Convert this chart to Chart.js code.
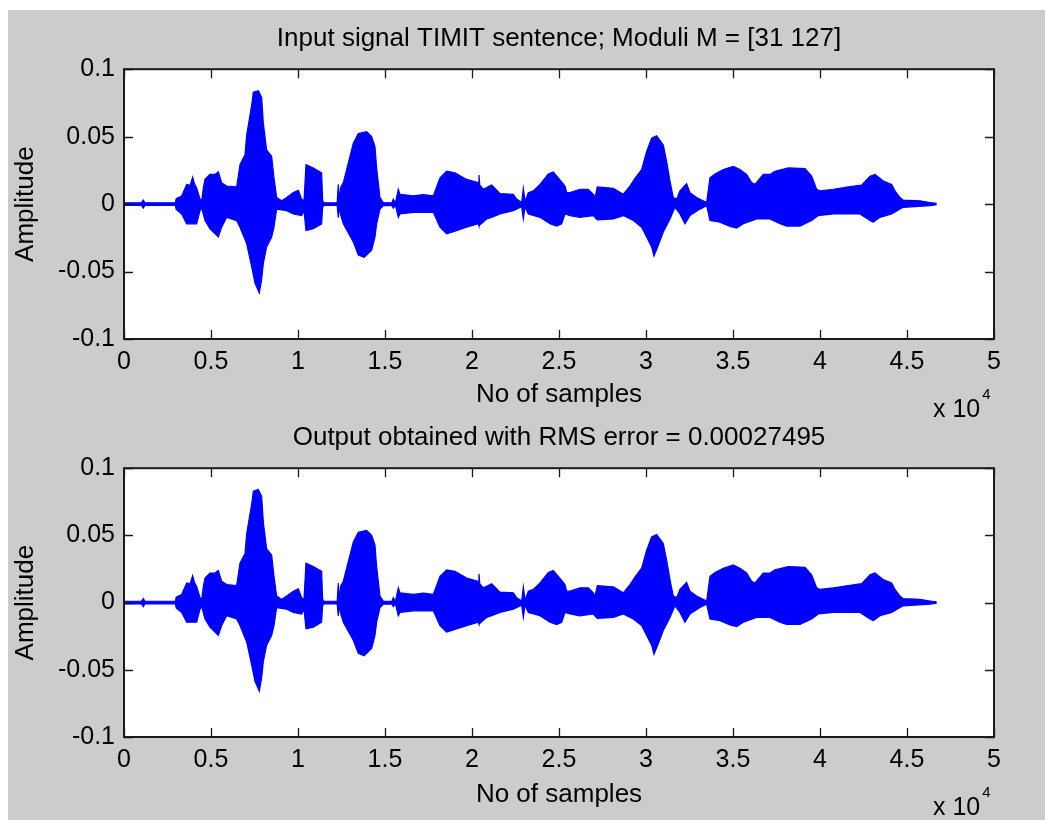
<!DOCTYPE html>
<html>
<head>
<meta charset="utf-8">
<title>TIMIT sentence - RNS reconstruction</title>
<script src="https://cdn.jsdelivr.net/npm/chart.js@4.4.1/dist/chart.umd.min.js"></script>
<style>
  html, body { margin: 0; padding: 0; background: #fff; }
  #figure { position: absolute; left: 8px; top: 10px; width: 1037px; height: 810px; background: #cccccc; }
  #figure canvas { position: absolute; left: 0; }
  #inputPlot { top: 0; }
  #outputPlot { top: 410px; }
</style>
</head>
<body>
<div id="figure">
  <canvas id="inputPlot" width="1037" height="410"></canvas>
  <canvas id="outputPlot" width="1037" height="400"></canvas>
</div>
<script>
// axis ticks (samples are shown in units of 10^4)
const xTickValues = [0, 5000, 10000, 15000, 20000, 25000, 30000, 35000, 40000, 45000, 50000];
const xTickLabels = ['0', '0.5', '1', '1.5', '2', '2.5', '3', '3.5', '4', '4.5', '5'];
const yTickValues = [-0.1, -0.05, 0, 0.05, 0.1];
const yTickLabels = ['-0.1', '-0.05', '0', '0.05', '0.1'];

// waveform envelope of the sentence: [sample index, amplitude]
const upperEnvelope = [
  [0, 0.001], [1000, 0.001], [1111, 0.003], [1200, 0.001], [2950, 0.001], [3000, 0.004],
  [3314, 0.006], [3602, 0.0146], [3800, 0.014], [3946, 0.02], [4050, 0.015], [4176, 0.012],
  [4368, 0.0037], [4463, 0.0024], [4560, 0.012], [4655, 0.0183], [4942, 0.022], [5230, 0.022],
  [5421, 0.0239], [5613, 0.0159], [5900, 0.0134], [6474, 0.0127], [6666, 0.0293], [6954, 0.0366],
  [7049, 0.0512], [7336, 0.0732], [7432, 0.0829], [7719, 0.0841], [7911, 0.079], [8007, 0.06],
  [8198, 0.04], [8486, 0.0354], [8620, 0.0195], [8773, 0.0049], [9061, 0.0024], [9348, 0.0049],
  [9731, 0.0085], [10019, 0.0102], [10210, 0.0037], [10344, 0.0024], [10459, 0.0293], [10880, 0.0268],
  [11359, 0.0232], [11416, 0.0024], [11500, 0.001], [12250, 0.001], [12316, 0.0146], [12380, 0.002],
  [12450, 0.0122], [12604, 0.0159], [12795, 0.0256], [13178, 0.0451], [13466, 0.0524], [13945, 0.0537],
  [14232, 0.05], [14424, 0.0427], [14520, 0.0268], [14711, 0.0049], [14903, 0.0012], [15400, 0.001],
  [15477, 0.0037], [15600, 0.001], [15765, 0.011], [15860, 0.0073], [16626, 0.0061], [17200, 0.007],
  [17776, 0.0061], [18160, 0.0195], [18543, 0.0244], [19022, 0.0232], [19692, 0.0183], [20362, 0.0159],
  [20400, 0.0215], [20450, 0.014], [20650, 0.011], [20842, 0.0122], [21129, 0.0141], [21607, 0.0078],
  [22375, 0.0073], [22567, 0.0037], [22854, 0.0012], [22950, 0.0117], [23050, 0.002], [23237, 0.0085],
  [23524, 0.0098], [23908, 0.0146], [24387, 0.0224], [24674, 0.0239], [24961, 0.0195], [25344, 0.0134],
  [25440, 0.0085], [25632, 0.0085], [26206, 0.011], [26685, 0.011], [26972, 0.0073], [27068, 0.0049],
  [27202, 0.0127], [28121, 0.0117], [28696, 0.0073], [29079, 0.0134], [29366, 0.019], [29749, 0.0256],
  [30037, 0.039], [30324, 0.0488], [30611, 0.0507], [30994, 0.0439], [31186, 0.0317], [31378, 0.0171],
  [31569, 0.0049], [31761, 0.0037], [31952, 0.0098], [32335, 0.0151], [32527, 0.0085], [32910, 0.0049],
  [33485, 0.0012], [33676, 0.0195], [33964, 0.0224], [34443, 0.0256], [35017, 0.028], [35400, 0.0256],
  [35783, 0.022], [36071, 0.0159], [36263, 0.0146], [36741, 0.022], [37124, 0.022], [37412, 0.0244],
  [38178, 0.0268], [39136, 0.0263], [39519, 0.0207], [39806, 0.011], [39999, 0.0098], [40765, 0.011],
  [41627, 0.0127], [42394, 0.0141], [42873, 0.0207], [43160, 0.022], [43639, 0.0171], [44118, 0.0146],
  [44310, 0.0098], [44597, 0.0049], [44789, 0.0029], [45747, 0.0024], [46321, 0.0012], [46704, 0.0005]
];
const lowerEnvelope = [
  [0, -0.001], [1000, -0.001], [1111, -0.003], [1200, -0.001], [2950, -0.001], [3000, -0.004],
  [3314, -0.0073], [3602, -0.0146], [4176, -0.0146], [4368, -0.0049], [4463, -0.003], [4655, -0.0122],
  [4942, -0.0183], [5421, -0.0244], [5613, -0.0171], [5900, -0.0098], [6474, -0.0122], [6666, -0.0171],
  [7049, -0.0293], [7336, -0.0463], [7528, -0.0585], [7777, -0.0659], [7911, -0.0561], [8007, -0.0439],
  [8198, -0.0317], [8486, -0.0244], [8620, -0.0171], [8773, -0.0037], [9348, -0.0049], [9731, -0.0073],
  [10210, -0.0085], [10344, -0.0049], [10459, -0.0195], [10880, -0.0183], [11359, -0.0146], [11416, -0.002],
  [11500, -0.001], [12250, -0.001], [12316, -0.01], [12380, -0.002], [12450, -0.008], [12604, -0.0146],
  [13178, -0.028], [13466, -0.0378], [13800, -0.0395], [14232, -0.0341], [14424, -0.0244], [14520, -0.0146],
  [14711, -0.0037], [14903, -0.0012], [15400, -0.001], [15477, -0.003], [15600, -0.001], [15765, -0.0098],
  [15860, -0.0073], [16626, -0.0061], [17776, -0.0061], [18160, -0.0171], [18543, -0.022], [19022, -0.02],
  [19692, -0.0171], [20362, -0.0146], [20400, -0.016], [20842, -0.011], [21129, -0.0098], [21607, -0.0073],
  [22375, -0.0049], [22854, -0.002], [22950, -0.011], [23050, -0.002], [23237, -0.0073], [23908, -0.0098],
  [24482, -0.0146], [24866, -0.0163], [25153, -0.0146], [25344, -0.0073], [25632, -0.0085], [26206, -0.0098],
  [26972, -0.0085], [27202, -0.0117], [28121, -0.011], [28696, -0.0085], [29271, -0.0122], [29749, -0.0171],
  [30037, -0.0244], [30324, -0.0317], [30458, -0.0385], [30707, -0.0305], [30994, -0.0207], [31378, -0.011],
  [31665, -0.0024], [31952, -0.0073], [32239, -0.0146], [32527, -0.0085], [33102, -0.0037], [33485, -0.0012],
  [33676, -0.0122], [34251, -0.0134], [34826, -0.0166], [35209, -0.0178], [35592, -0.0146], [36358, -0.011],
  [37124, -0.011], [37699, -0.0146], [38082, -0.0163], [38848, -0.0163], [39519, -0.0122], [39902, -0.0085],
  [40765, -0.0073], [42298, -0.0073], [42873, -0.0122], [43064, -0.0134], [43448, -0.0098], [44118, -0.0073],
  [44597, -0.0037], [44789, -0.0024], [46321, -0.0012], [46704, -0.0005]
];

const FONT = '"Liberation Sans", Arial, sans-serif';
Chart.defaults.font.family = FONT;
Chart.defaults.font.size = 25;
Chart.defaults.color = '#000';

// white axes background, box, inward tick marks on all four sides and the x 10^4 exponent
const matlabAxes = {
  id: 'matlabAxes',
  beforeDraw(chart) {
    const { ctx, chartArea: a } = chart;
    ctx.save();
    ctx.fillStyle = '#fff';
    ctx.fillRect(a.left, a.top, a.width, a.height);
    ctx.restore();
  },
  afterDraw(chart, args, opts) {
    const { ctx, chartArea: a, scales: { x, y } } = chart;
    const len = 9;
    ctx.save();
    ctx.strokeStyle = '#1a1a1a';
    ctx.lineWidth = 1.3;
    ctx.beginPath();
    x.ticks.forEach(t => {
      const px = Math.round(x.getPixelForValue(t.value)) + 0.5;
      ctx.moveTo(px, a.bottom); ctx.lineTo(px, a.bottom - len);
      ctx.moveTo(px, a.top); ctx.lineTo(px, a.top + len);
    });
    y.ticks.forEach(t => {
      const py = Math.round(y.getPixelForValue(t.value)) + 0.5;
      ctx.moveTo(a.left, py); ctx.lineTo(a.left + len, py);
      ctx.moveTo(a.right, py); ctx.lineTo(a.right - len, py);
    });
    ctx.stroke();
    ctx.lineWidth = 2;
    ctx.strokeRect(a.left, a.top, a.width, a.height);

    ctx.fillStyle = '#000';
    ctx.textAlign = 'left';
    ctx.textBaseline = 'middle';
    ctx.font = '25px ' + FONT;
    const x0 = a.right - 61;
    ctx.fillText('x 10', x0, opts.y);
    const w = ctx.measureText('x 10').width;
    ctx.font = '15px ' + FONT;
    ctx.fillText('4', x0 + w + 2, opts.y - 15);
    ctx.restore();
  }
};

function envelopeDataset(points, fill) {
  return {
    data: points.map(p => ({ x: p[0], y: p[1] })),
    borderColor: '#0000ff',
    backgroundColor: '#0000ff',
    borderWidth: 1.2,
    pointRadius: 0,
    tension: 0,
    fill
  };
}

function makePlot(id, title, cfg) {
  return new Chart(document.getElementById(id), {
    type: 'line',
    data: {
      // upper envelope is filled down to the lower one
      datasets: [envelopeDataset(upperEnvelope, '+1'), envelopeDataset(lowerEnvelope, false)]
    },
    options: {
      responsive: false,
      animation: false,
      events: [],
      layout: { padding: { left: 0, right: 51, top: 0, bottom: 0 } },
      plugins: {
        legend: { display: false },
        tooltip: { enabled: false },
        title: {
          display: true,
          text: title,
          fullSize: false,
          font: { size: 26, weight: 'normal' },
          color: '#000',
          padding: { top: cfg.titleTop, bottom: cfg.titleBottom }
        },
        matlabAxes: { y: cfg.exponentY }
      },
      scales: {
        x: {
          type: 'linear',
          min: 0,
          max: 50000,
          grid: { display: false, drawTicks: false },
          border: { display: false },
          afterBuildTicks: s => { s.ticks = xTickValues.map(value => ({ value })); },
          ticks: { padding: 8, maxRotation: 0, autoSkip: false, callback: (v, i) => xTickLabels[i] },
          title: { display: true, text: 'No of samples', font: { size: 26 }, padding: { top: 0, bottom: 10 } },
          afterFit: s => { s.height = cfg.xHeight; s.paddingLeft = 0; s.paddingRight = 0; }
        },
        y: {
          min: -0.1,
          max: 0.1,
          grid: { display: false, drawTicks: false },
          border: { display: false },
          afterBuildTicks: s => { s.ticks = yTickValues.map(value => ({ value })); },
          ticks: { padding: 9, autoSkip: false, callback: (v, i) => yTickLabels[i] },
          title: { display: true, text: 'Amplitude', font: { size: 26 }, padding: { top: 2, bottom: 0 } },
          afterFit: s => { s.width = 116; s.paddingTop = 0; s.paddingBottom = 0; }
        }
      }
    },
    plugins: [matlabAxes]
  });
}

makePlot('inputPlot', 'Input signal TIMIT sentence; Moduli M = [31 127]',
  { titleTop: 13, titleBottom: 15, xHeight: 81, exponentY: 400 });
// the reconstruction error (RMS 0.00027) is far below one pixel, so the output trace uses the same envelope
makePlot('outputPlot', 'Output obtained with RMS error = 0.00027495',
  { titleTop: 2, titleBottom: 15, xHeight: 83, exponentY: 388 });
</script>
</body>
</html>
